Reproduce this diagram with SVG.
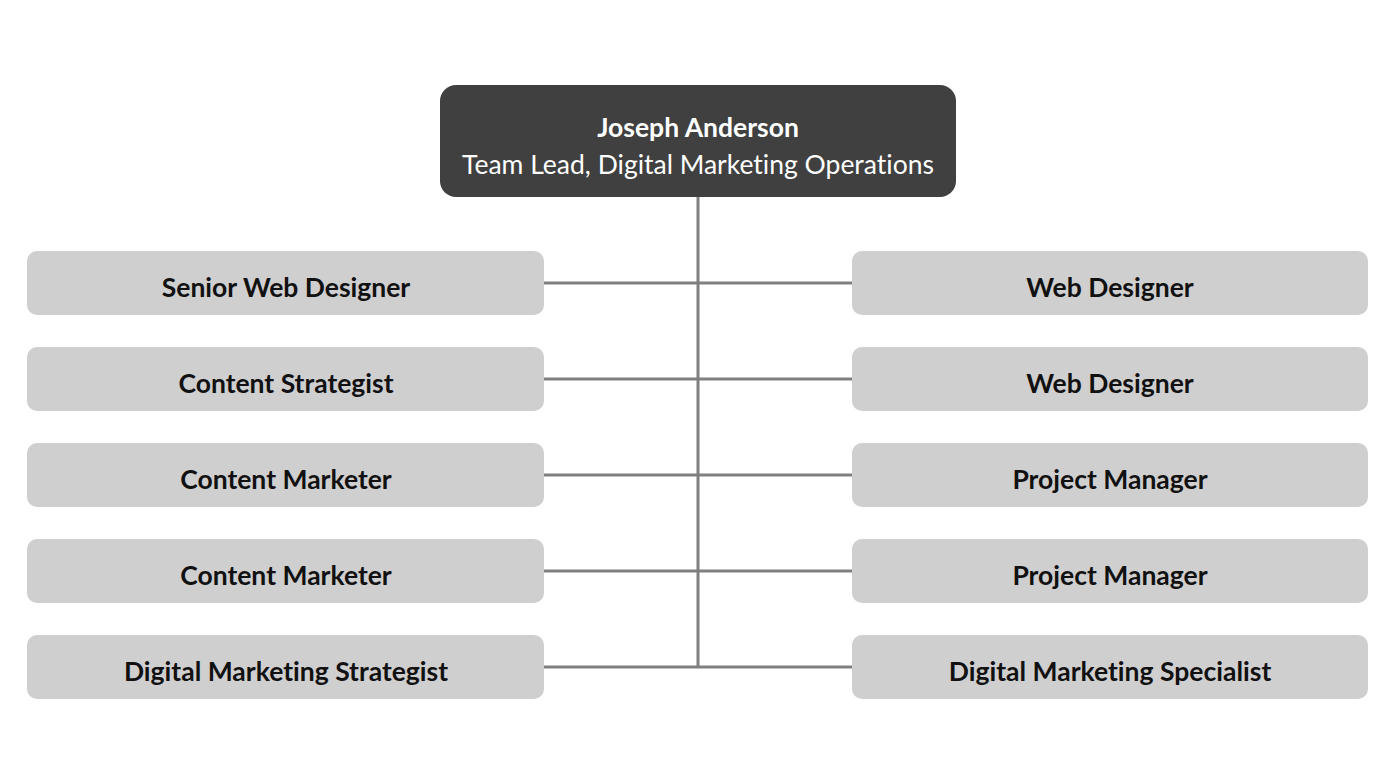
<svg xmlns="http://www.w3.org/2000/svg" width="1395" height="783" viewBox="0 0 1395 783">
<style>
.bg{fill:#ffffff}
.top{fill:#404040}
.box{fill:#d0cfcf}
.line{stroke:#808080;stroke-width:3;fill:none}
.t{font-family:Lato,"Liberation Sans",sans-serif;font-size:26.5px;text-anchor:middle;font-variant-ligatures:none}
.b{font-weight:bold;fill:#111111}
.w{fill:#ffffff}
</style>
<rect class="bg" width="1395" height="783"/>
<g id="connectors">
<path class="line" d="M698 197V667"/>
<path class="line" d="M544 283H852M544 379H852M544 475H852M544 571H852M544 667H852"/>
</g>
<g id="n0"><rect class="top" x="440" y="85" width="516" height="112" rx="16"/>
<text class="t w" x="698" y="137" font-weight="bold">Joseph Anderson</text>
<text class="t w" x="698" y="174">Team Lead, Digital Marketing Operations</text></g>
<g id="l1"><rect class="box" x="27" y="251" width="517" height="64" rx="10"/><text class="t b" x="286" y="297">Senior Web Designer</text></g>
<g id="l2"><rect class="box" x="27" y="347" width="517" height="64" rx="10"/><text class="t b" x="286" y="393">Content Strategist</text></g>
<g id="l3"><rect class="box" x="27" y="443" width="517" height="64" rx="10"/><text class="t b" x="286" y="489">Content Marketer</text></g>
<g id="l4"><rect class="box" x="27" y="539" width="517" height="64" rx="10"/><text class="t b" x="286" y="585">Content Marketer</text></g>
<g id="l5"><rect class="box" x="27" y="635" width="517" height="64" rx="10"/><text class="t b" x="286" y="681">Digital Marketing Strategist</text></g>
<g id="r1"><rect class="box" x="852" y="251" width="516" height="64" rx="10"/><text class="t b" x="1110" y="297">Web Designer</text></g>
<g id="r2"><rect class="box" x="852" y="347" width="516" height="64" rx="10"/><text class="t b" x="1110" y="393">Web Designer</text></g>
<g id="r3"><rect class="box" x="852" y="443" width="516" height="64" rx="10"/><text class="t b" x="1110" y="489">Project Manager</text></g>
<g id="r4"><rect class="box" x="852" y="539" width="516" height="64" rx="10"/><text class="t b" x="1110" y="585">Project Manager</text></g>
<g id="r5"><rect class="box" x="852" y="635" width="516" height="64" rx="10"/><text class="t b" x="1110" y="681">Digital Marketing Specialist</text></g>
</svg>
